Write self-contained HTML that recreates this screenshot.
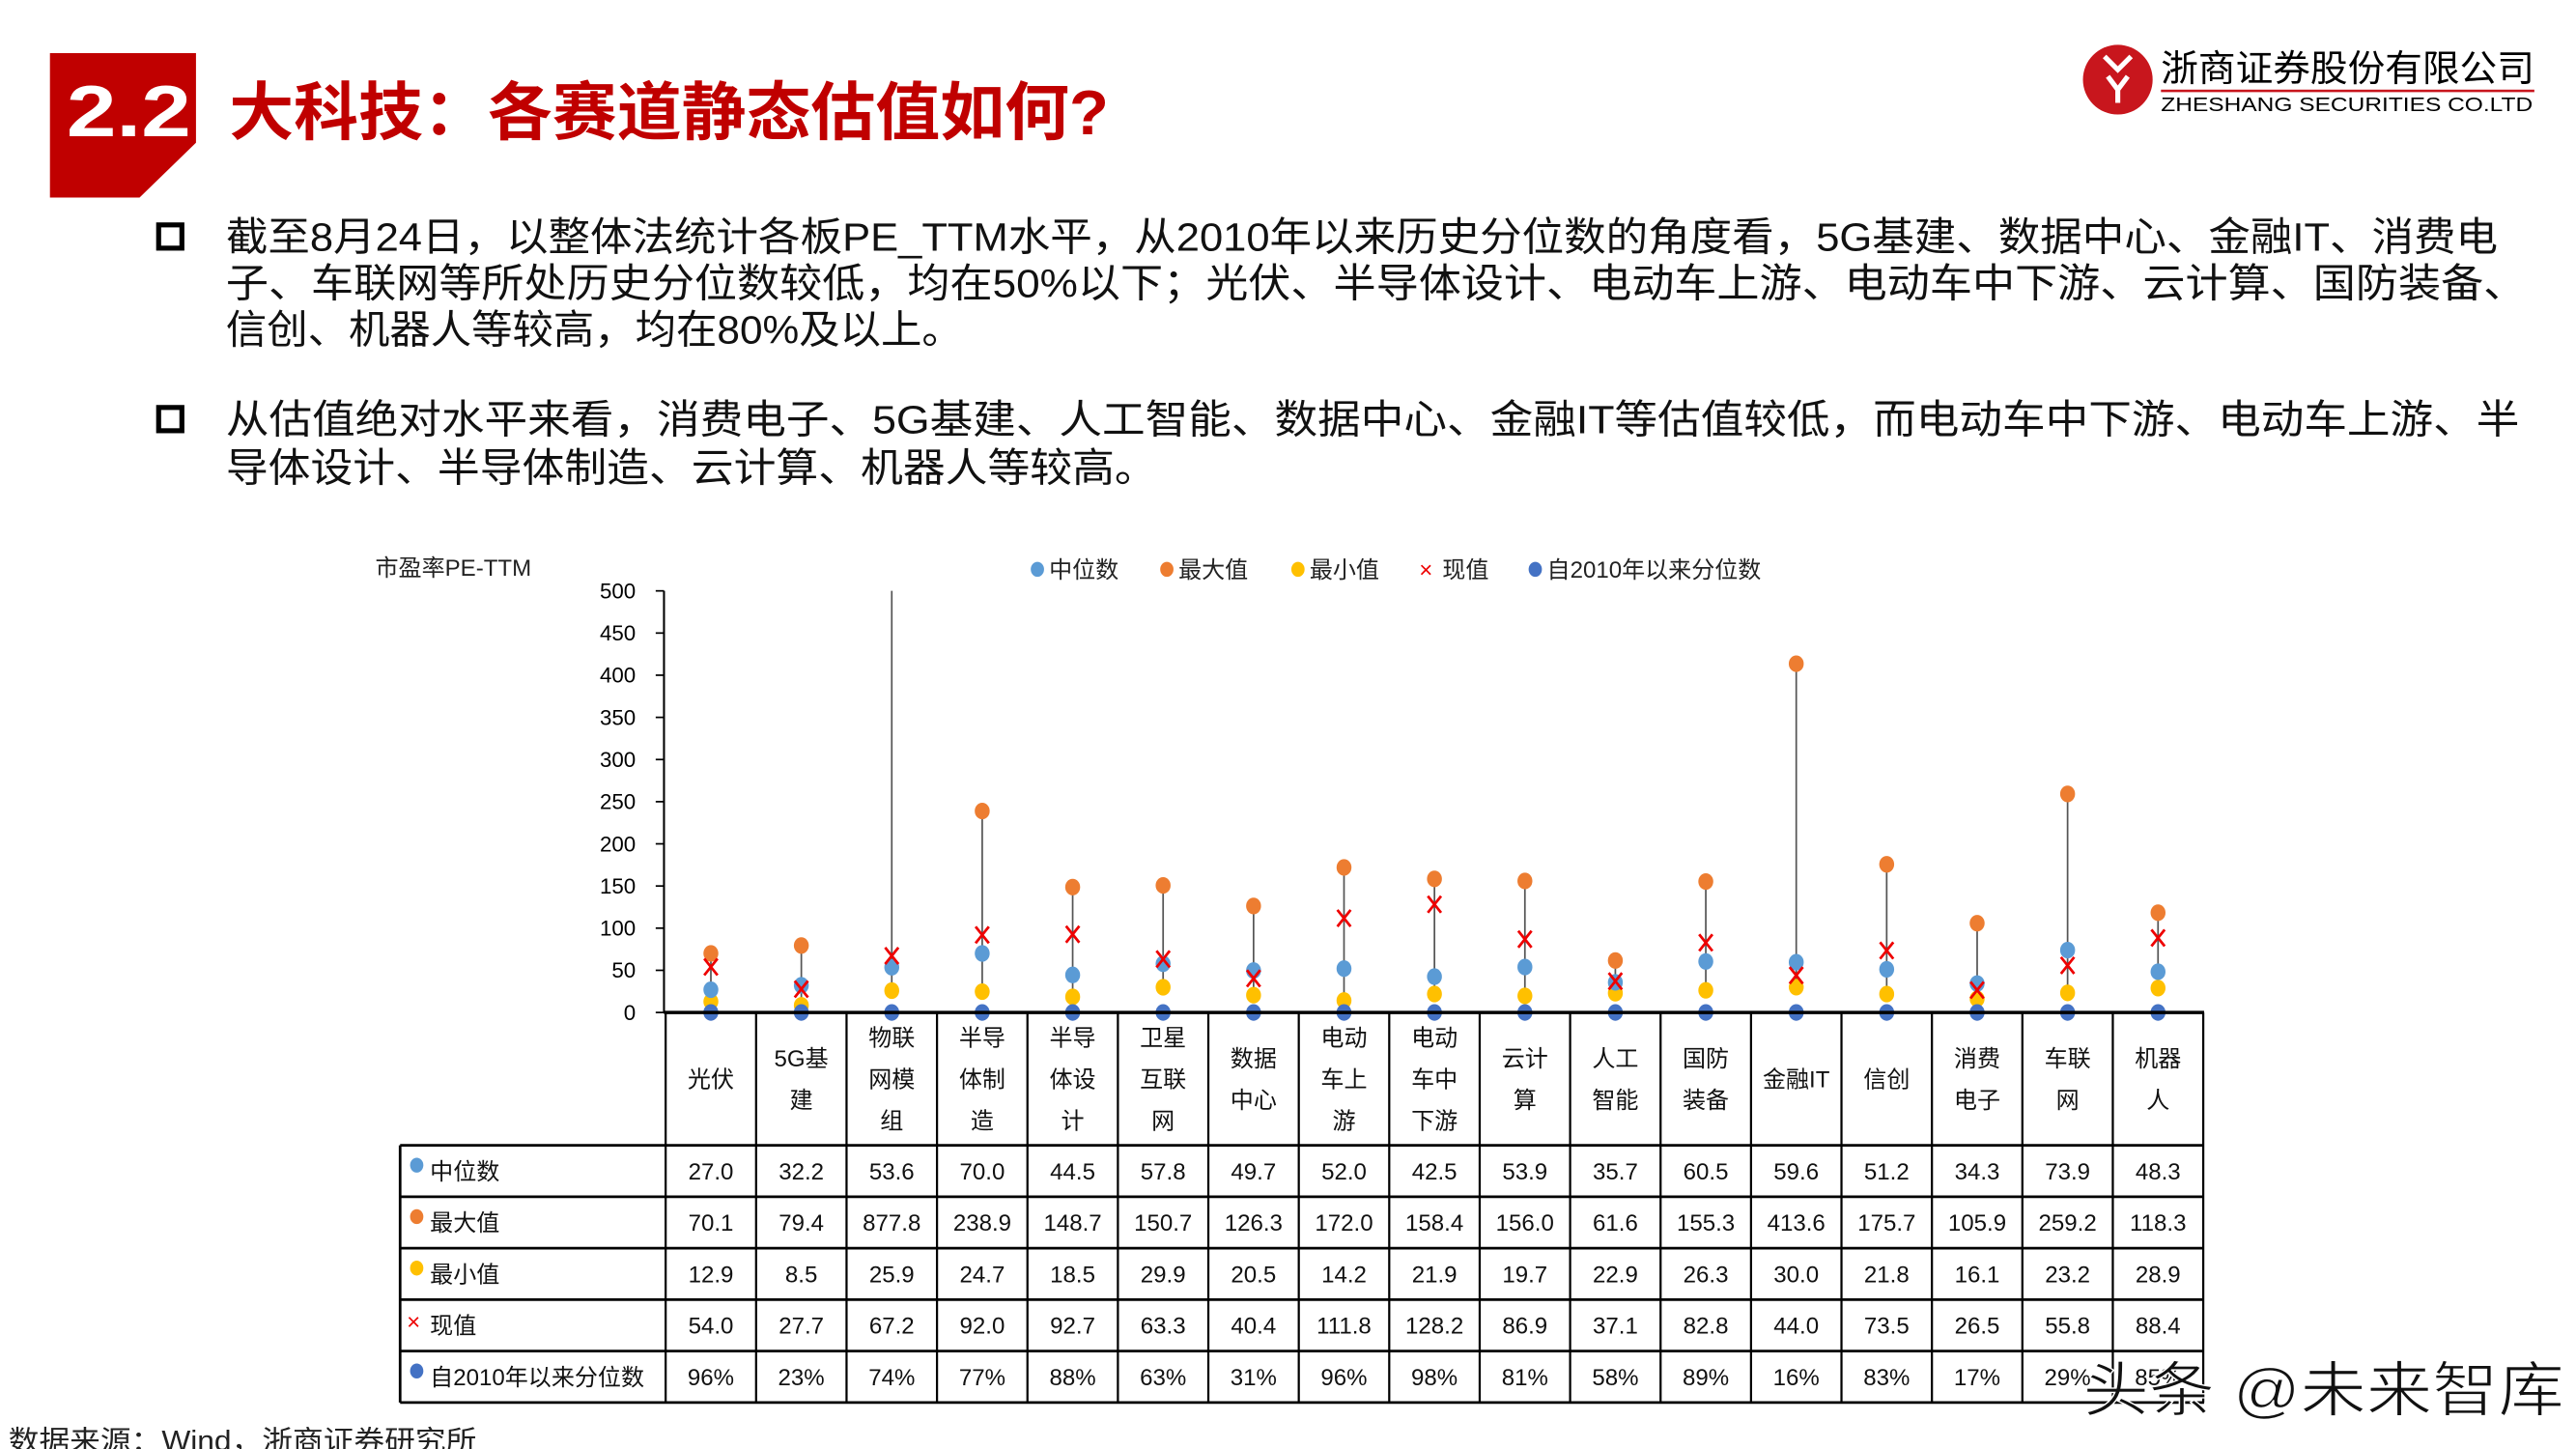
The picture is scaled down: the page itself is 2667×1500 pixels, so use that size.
<!DOCTYPE html>
<html><head><meta charset="utf-8"><style>
html,body{margin:0;padding:0;background:#fff;}
svg{display:block;}
text{font-family:"Liberation Sans","Noto Sans CJK SC",sans-serif;}
</style></head><body>
<svg id="s" xmlns="http://www.w3.org/2000/svg" width="2667" height="1500" viewBox="0 0 1552 873">
<rect width="1552" height="873" fill="#fff"/>
<polygon points="30,32 118,32 118,86 84,119 30,119" fill="#c00000"/>
<text x="40" y="82" font-size="44" font-weight="bold" fill="#fff" textLength="75" lengthAdjust="spacingAndGlyphs">2.2</text>
<text x="138" y="81" font-size="38" font-weight="bold" fill="#c00000" textLength="530" lengthAdjust="spacingAndGlyphs">大科技：各赛道静态估值如何?</text>
<circle cx="1276" cy="48" r="21" fill="#c8161d"/>
<path d="M1268,34 L1276,42 L1284,34 M1270,46 L1276,54 L1282,46 M1276,54 L1276,62" stroke="#fff" stroke-width="3" fill="none"/>
<text x="1302" y="49" font-size="22" fill="#000" font-family="Noto Serif CJK SC,serif" textLength="225" lengthAdjust="spacingAndGlyphs">浙商证券股份有限公司</text>
<rect x="1302" y="54" width="225" height="1.5" fill="#c8161d"/>
<text x="1302" y="67" font-size="12" fill="#000" font-family="Liberation Serif,serif" textLength="224" lengthAdjust="spacingAndGlyphs">ZHESHANG SECURITIES CO.LTD</text>
<rect x="95.5" y="135.5" width="14" height="14" fill="none" stroke="#000" stroke-width="3"/>
<rect x="95.5" y="245.5" width="14" height="14" fill="none" stroke="#000" stroke-width="3"/>
<g font-size="24" fill="#111">
<text x="136" y="151" textLength="1369" lengthAdjust="spacingAndGlyphs">截至8月24日，以整体法统计各板PE_TTM水平，从2010年以来历史分位数的角度看，5G基建、数据中心、金融IT、消费电</text>
<text x="136" y="179" textLength="1386" lengthAdjust="spacingAndGlyphs">子、车联网等所处历史分位数较低，均在50%以下；光伏、半导体设计、电动车上游、电动车中下游、云计算、国防装备、</text>
<text x="136" y="207" textLength="444" lengthAdjust="spacingAndGlyphs">信创、机器人等较高，均在80%及以上。</text>
<text x="136" y="261" textLength="1382" lengthAdjust="spacingAndGlyphs">从估值绝对水平来看，消费电子、5G基建、人工智能、数据中心、金融IT等估值较低，而电动车中下游、电动车上游、半</text>
<text x="136" y="290" textLength="561" lengthAdjust="spacingAndGlyphs">导体设计、半导体制造、云计算、机器人等较高。</text>
</g>
<text x="226" y="347" font-size="14" fill="#222">市盈率PE-TTM</text>
<g id="chart"></g>
<text x="5" y="874" font-size="17" fill="#222" textLength="282" lengthAdjust="spacingAndGlyphs">数据来源：Wind，浙商证券研究所</text>
<text x="1255" y="850" font-size="36" fill="#111" stroke="#fff" stroke-width="0.8" textLength="290" lengthAdjust="spacingAndGlyphs">头条 @未来智库</text>
</svg>
<script>
var g=document.getElementById('chart'),NS='http://www.w3.org/2000/svg',h='';
var cats=[['光伏'],['5G基','建'],['物联','网模','组'],['半导','体制','造'],['半导','体设','计'],['卫星','互联','网'],['数据','中心'],['电动','车上','游'],['电动','车中','下游'],['云计','算'],['人工','智能'],['国防','装备'],['金融IT'],['信创'],['消费','电子'],['车联','网'],['机器','人']];
var med=[27.0,32.2,53.6,70.0,44.5,57.8,49.7,52.0,42.5,53.9,35.7,60.5,59.6,51.2,34.3,73.9,48.3];
var mx=[70.1,79.4,877.8,238.9,148.7,150.7,126.3,172.0,158.4,156.0,61.6,155.3,413.6,175.7,105.9,259.2,118.3];
var mn=[12.9,8.5,25.9,24.7,18.5,29.9,20.5,14.2,21.9,19.7,22.9,26.3,30.0,21.8,16.1,23.2,28.9];
var cur=[54.0,27.7,67.2,92.0,92.7,63.3,40.4,111.8,128.2,86.9,37.1,82.8,44.0,73.5,26.5,55.8,88.4];
var pct=['96%','23%','74%','77%','88%','63%','31%','96%','98%','81%','58%','89%','16%','83%','17%','29%','85%'];
var x0=401,cw=54.5,y0=610,k=254/500;
function Y(v){return y0-Math.min(v,500)*k;}
// axis
h+='<line x1="400" y1="356" x2="400" y2="610" stroke="#000" stroke-width="1.2"/>';
for(var t=0;t<=500;t+=50){var y=Y(t);h+='<line x1="395" y1="'+y+'" x2="400" y2="'+y+'" stroke="#000"/><text x="383" y="'+(y+4.5)+'" font-size="13" text-anchor="end" fill="#000">'+t+'</text>';}
// legend
var lg=[[621,'#5b9bd5','中位数'],[699,'#ed7d31','最大值'],[778,'#ffc000','最小值'],[921,'#4472c4','自2010年以来分位数']];
lg.forEach(function(l){h+='<ellipse cx="'+(l[0]+4)+'" cy="343" rx="4" ry="4.5" fill="'+l[1]+'"/><text x="'+(l[0]+11)+'" y="348" font-size="14" fill="#222">'+l[2]+'</text>';});
h+='<text x="855" y="348" font-size="14" fill="#e00">×</text><text x="869" y="348" font-size="14" fill="#222">现值</text>';
// series
for(var i=0;i<17;i++){var cx=x0+cw*(i+0.5);
h+='<line x1="'+cx+'" y1="'+Y(mx[i])+'" x2="'+cx+'" y2="'+Y(mn[i])+'" stroke="#555" stroke-width="1"/>';
h+='<ellipse cx="'+cx+'" cy="'+Y(mn[i])+'" rx="4.5" ry="5" fill="#ffc000"/>';
h+='<ellipse cx="'+cx+'" cy="'+Y(med[i])+'" rx="4.5" ry="5" fill="#5b9bd5"/>';
if(mx[i]<=500)h+='<ellipse cx="'+cx+'" cy="'+Y(mx[i])+'" rx="4.5" ry="5" fill="#ed7d31"/>';
var cy=Y(cur[i]);h+='<path d="M'+(cx-4)+','+(cy-5)+'L'+(cx+4)+','+(cy+5)+'M'+(cx+4)+','+(cy-5)+'L'+(cx-4)+','+(cy+5)+'" stroke="#e00" stroke-width="1.6"/>';
h+='<ellipse cx="'+cx+'" cy="610" rx="4.5" ry="5" fill="#4472c4"/>';
}
// table
h+='<line x1="400" y1="610" x2="1328" y2="610" stroke="#000" stroke-width="2"/>';
var rows=[690,721,752,783,814,845];
rows.forEach(function(r){h+='<line x1="241" y1="'+r+'" x2="1328" y2="'+r+'" stroke="#000" stroke-width="1.6"/>';});
h+='<line x1="241" y1="690" x2="241" y2="845" stroke="#000" stroke-width="1.6"/>';
for(var i=0;i<=17;i++){var x=x0+cw*i;h+='<line x1="'+x+'" y1="610" x2="'+x+'" y2="845" stroke="#000" stroke-width="1.3"/>';}
for(var i=0;i<17;i++){var cx=x0+cw*(i+0.5),c=cats[i],n=c.length,st=650-(n-1)*12.5;
c.forEach(function(s,j){h+='<text x="'+cx+'" y="'+(st+j*25+5)+'" font-size="14" text-anchor="middle" fill="#111">'+s+'</text>';});
var vals=[med[i].toFixed(1),mx[i].toFixed(1),mn[i].toFixed(1),cur[i].toFixed(1),pct[i]];
vals.forEach(function(v,j){h+='<text x="'+cx+'" y="'+(rows[j]+20.5)+'" font-size="14" text-anchor="middle" fill="#111">'+v+'</text>';});}
var rl=[['#5b9bd5','中位数'],['#ed7d31','最大值'],['#ffc000','最小值'],['x','现值'],['#4472c4','自2010年以来分位数']];
rl.forEach(function(r,j){var y=rows[j]+15;
if(r[0]=='x')h+='<text x="245" y="'+(y+3)+'" font-size="14" fill="#e00">×</text>';else h+='<ellipse cx="251" cy="'+(y-3)+'" rx="4" ry="4.5" fill="'+r[0]+'"/>';
h+='<text x="259" y="'+(y+5.5)+'" font-size="14" fill="#111">'+r[1]+'</text>';});
g.innerHTML=h;
</script>
</body></html>
